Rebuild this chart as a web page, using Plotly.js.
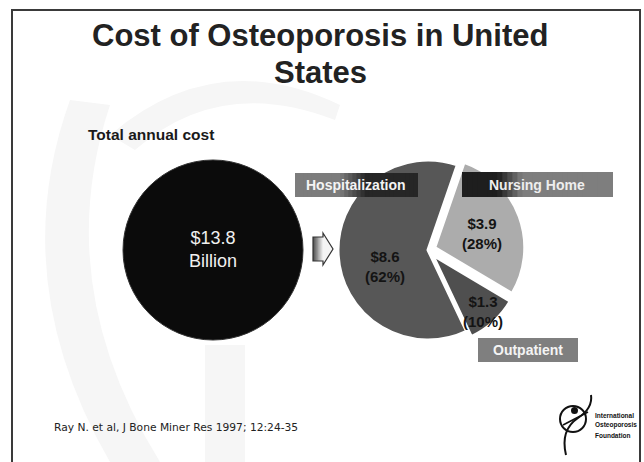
<!DOCTYPE html>
<html><head><meta charset="utf-8">
<script src="https://cdn.plot.ly/plotly-3.0.1.min.js"></script>
<style>html,body{margin:0;padding:0;background:#fff;overflow:hidden}#chart{width:644px;height:462px}</style>
</head><body><div id="chart"></div>
<script>
// ---- data ----
const titleLines = ["Cost of Osteoporosis in United", "States"];
const totalLabel = "Total annual cost";
const totalValue = 13.8;
const totalUnit = "Billion";
const categories = ["Nursing Home", "Outpatient", "Hospitalization"];
const costs = [3.9, 1.3, 8.6];
const percentLabels = ["28%", "10%", "62%"];
const pulls = [0.08, 0.08, 0];
const sliceColors = ["#acacac", "#4f4f4f", "#575757"];
const citation = "Ray N. et al, J Bone Miner Res 1997; 12:24-35";
const logoLines = ["International", "Osteoporosis", "Foundation"];

// ---- helpers ----
const W = 644, H = 462;
const px = x => x / W;
const py = y => 1 - y / H;
function hex2rgb(h){h=h.replace('#','');return [0,2,4].map(i=>parseInt(h.substr(i,2),16));}
function mix(c0,c1,t){const a=hex2rgb(c0),b=hex2rgb(c1);return 'rgb('+a.map((v,i)=>Math.round(v+(b[i]-v)*t)).join(',')+')';}
function gradStrips(x0,x1,y0,y1,c0,c1,xa,xb,n,layer){
  const out=[];const w=(x1-x0)/n;
  for(let i=0;i<n;i++){
    const xc=x0+(i+0.5)*w;let t=(xc-xa)/(xb-xa);t=Math.max(0,Math.min(1,t));
    const right = (i===n-1) ? x1 : x0+(i+1)*w+1.2;
    out.push({type:'rect',xref:'paper',yref:'paper',x0:px(x0+i*w),x1:px(right),y0:py(y1),y1:py(y0),
      fillcolor:mix(c0,c1,t),line:{width:0},layer:layer||'above'});
  }
  return out;
}
function domainFor(cx,cy,r){return {x:[px(cx-r),px(cx+r)],y:[py(cy+r),py(cy-r)]};}

// ---- traces ----
const totalPie = {
  type:'pie', values:[totalValue], labels:[totalLabel], sort:false,
  domain: domainFor(213,250,90),
  marker:{colors:['#0b0b0b'], line:{color:'#333',width:1}},
  textinfo:'none', hoverinfo:'skip', showlegend:false
};
const maxPull = Math.max(...pulls);
const costPie = {
  type:'pie', values:costs, labels:categories, sort:false,
  direction:'clockwise', rotation:19, pull:pulls,
  domain: domainFor(428,250,90*(1+maxPull)),
  marker:{colors:sliceColors, line:{color:'#ffffff',width:3}},
  textinfo:'none', hoverinfo:'label+value', showlegend:false
};

// ---- shapes ----
const shapes = [];
// very faint watermark swirls
shapes.push({type:'path',xref:'paper',yref:'paper',layer:'below',
  path:`M ${px(70)},${py(100)} Q ${px(5)},${py(280)} ${px(110)},${py(462)} L ${px(160)},${py(462)} Q ${px(50)},${py(285)} ${px(110)},${py(105)} Z`,
  fillcolor:'#f6f6f6',line:{width:0}});
shapes.push({type:'path',xref:'paper',yref:'paper',layer:'below',
  path:`M ${px(110)},${py(135)} Q ${px(215)},${py(45)} ${px(340)},${py(105)} L ${px(335)},${py(120)} Q ${px(220)},${py(75)} ${px(135)},${py(150)} Z`,
  fillcolor:'#f6f6f6',line:{width:0}});
shapes.push({type:'rect',xref:'paper',yref:'paper',layer:'below',x0:px(205),x1:px(245),y0:py(462),y1:py(345),fillcolor:'#f6f6f6',line:{width:0}});
// frame
shapes.push({type:'path',xref:'paper',yref:'paper',layer:'above',
  path:`M ${px(12)},${py(462)} L ${px(12)},${py(10)} L ${px(640)},${py(10)} L ${px(640)},${py(462)}`,
  line:{color:'#3a3a3a',width:2}});
// arrow
shapes.push(...gradStrips(313,323,237,261,'#4a4a4a','#f6f6f6',313,323,8));
shapes.push({type:'path',xref:'paper',yref:'paper',
  path:`M ${px(323)},${py(237)} L ${px(323)},${py(233)} L ${px(333)},${py(249)} L ${px(323)},${py(265)} L ${px(323)},${py(261)} Z`,
  fillcolor:'#f4f4f4',line:{width:0}});
shapes.push({type:'path',xref:'paper',yref:'paper',
  path:`M ${px(313)},${py(237)} L ${px(323)},${py(237)} L ${px(323)},${py(233)} L ${px(333)},${py(249)} L ${px(323)},${py(265)} L ${px(323)},${py(261)} L ${px(313)},${py(261)} Z`,
  line:{color:'#333',width:1.2}});
// label boxes
shapes.push(...gradStrips(295,418,173,197,'#7c7c7c','#262626',340,366,30));
shapes.push(...gradStrips(462,613,172,197,'#1e1e1e','#7e7e7e',498,522,30));
shapes.push({type:'rect',xref:'paper',yref:'paper',x0:px(478),x1:px(578),y0:py(362),y1:py(338),fillcolor:'#7f7f7f',line:{width:0}});
// logo
shapes.push({type:'circle',xref:'paper',yref:'paper',x0:px(560),x1:px(586),y0:py(432),y1:py(406),line:{color:'#111',width:2}});
shapes.push({type:'path',xref:'paper',yref:'paper',
  path:`M ${px(566)},${py(455)} Q ${px(560)},${py(430)} ${px(578)},${py(418)} Q ${px(593)},${py(408)} ${px(591)},${py(395)}`,
  line:{color:'#111',width:2}});
shapes.push({type:'path',xref:'paper',yref:'paper',
  path:`M ${px(563)},${py(425)} L ${px(588)},${py(412)}`,line:{color:'#111',width:1.6}});
shapes.push({type:'circle',xref:'paper',yref:'paper',x0:px(571),x1:px(578),y0:py(414),y1:py(407),fillcolor:'#111',line:{width:0}});

// ---- annotations ----
const F = 'Liberation Sans, Arial, sans-serif';
const ann = [];
const A = (x,y,text,size,color,extra) => Object.assign({xref:'paper',yref:'paper',x:px(x),y:py(y),text,showarrow:false,
  font:{family:F,size,color},xanchor:'center',yanchor:'middle'},extra||{});
ann.push(A(320,35,'<b>'+titleLines[0]+'</b>',31,'#222'));
ann.push(A(320,72,'<b>'+titleLines[1]+'</b>',31,'#222'));
ann.push(A(151,135,'<b>'+totalLabel+'</b>',15.5,'#1a1a1a'));
ann.push(A(213,249,'$'+totalValue+'<br>'+totalUnit,18,'#f0f0f0'));
// box labels
ann.push(A(356,185,'<b>'+categories[2]+'</b>',14,'#f4f4f4'));
ann.push(A(537,185,'<b>'+categories[0]+'</b>',14,'#eeeeee'));
ann.push(A(528,350,'<b>'+categories[1]+'</b>',14,'#f4f4f4'));
// slice values
const valPos = [[482,234],[483,311],[385,266]];
costs.forEach((v,i)=>ann.push(A(valPos[i][0],valPos[i][1],'<b>$'+v+'<br>('+percentLabels[i]+')</b>',15,'#141414')));
// citation
ann.push(A(52,427,citation,10.7,'#222',{xanchor:'left',font:{family:'DejaVu Sans, Verdana, sans-serif',size:10.7,color:'#222'}}));
// logo text
logoLines.forEach((t,i)=>ann.push(A(593,415+i*10,'<b>'+t+'</b>',6.5,'#111',{xanchor:'left'})));

const layout = {
  width:W, height:H, margin:{l:0,r:0,t:0,b:0},
  paper_bgcolor:'#ffffff', plot_bgcolor:'#ffffff', showlegend:false,
  shapes, annotations:ann
};
Plotly.newPlot('chart',[totalPie,costPie],layout,{displayModeBar:false,staticPlot:true});
</script></body></html>
